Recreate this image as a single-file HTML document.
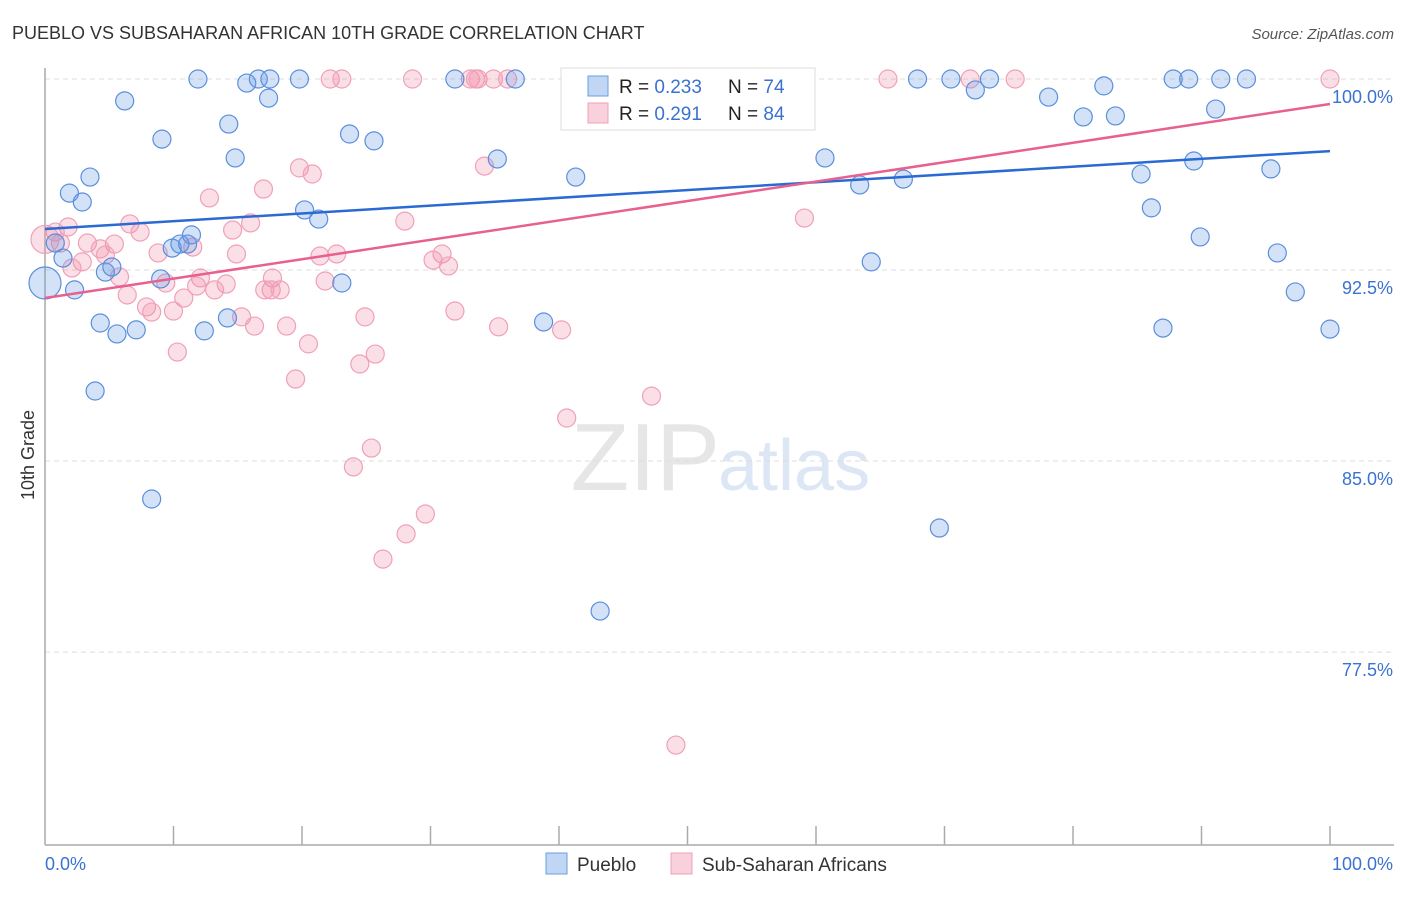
<!DOCTYPE html>
<html><head><meta charset="utf-8">
<style>
body{margin:0;background:#fff;font-family:"Liberation Sans",sans-serif;}
svg text{font-family:"Liberation Sans",sans-serif;}
</style></head>
<body>
<svg id="chart" width="1406" height="892" viewBox="0 0 1406 892" xmlns="http://www.w3.org/2000/svg">
<text x="12" y="39" font-size="18" fill="#333">PUEBLO VS SUBSAHARAN AFRICAN 10TH GRADE CORRELATION CHART</text>
<text x="1394" y="39" font-size="15" fill="#555" text-anchor="end" font-style="italic">Source: ZipAtlas.com</text>
<text x="720" y="490" font-size="96" fill="#e6e6e6" text-anchor="end" font-family="Liberation Serif">ZIP</text>
<text x="718" y="490" font-size="72" fill="#dce6f4">atlas</text>
<g id="grid"></g>
<g id="axes"></g>
<g id="pts"></g>
<g id="trends"></g>
<text transform="translate(34,455) rotate(-90)" font-size="18" fill="#333" text-anchor="middle">10th Grade</text>
<g>
<rect x="561" y="68" width="254" height="62" fill="#fff" stroke="#ddd"/>
<rect x="588" y="76" width="20" height="20" fill="rgba(100,150,230,0.4)" stroke="#6a9ee0"/>
<rect x="588" y="103" width="20" height="20" fill="rgba(240,140,170,0.4)" stroke="#f0a0b8"/>
<text x="619" y="93" font-size="19" fill="#222">R = <tspan fill="#3a72d0">0.233</tspan></text>
<text x="728" y="93" font-size="19" fill="#222">N = <tspan fill="#3a72d0">74</tspan></text>
<text x="619" y="120" font-size="19" fill="#222">R = <tspan fill="#3a72d0"> 0.291</tspan></text>
<text x="728" y="120" font-size="19" fill="#222">N = <tspan fill="#3a72d0">84</tspan></text>
</g>
<g>
<rect x="546" y="853" width="21" height="21" fill="rgba(100,150,230,0.4)" stroke="#6a9ee0"/>
<text x="577" y="871" font-size="19" fill="#333">Pueblo</text>
<rect x="671" y="853" width="21" height="21" fill="rgba(240,140,170,0.4)" stroke="#f0a0b8"/>
<text x="702" y="871" font-size="19" fill="#333">Sub-Saharan Africans</text>
</g>
</svg>
<script>
const yTicks=[100,92.5,85,77.5];
const yTickLabels=["100.0%","92.5%","85.0%","77.5%"];
const xTickLabels=["0.0%","100.0%"];
const blueX=[11.9,15.7,16.6,17.5,19.8,31.9,36.6,6.2,17.4,9.1,14.3,14.8,23.7,25.6,3.5,1.9,2.9,20.2,21.3,35.2,41.3,60.7,63.4,66.8,64.3,67.9,70.5,72.4,73.5,78.1,80.8,82.4,83.3,87.8,89.0,91.5,93.5,91.1,85.3,89.4,95.4,86.1,89.9,95.9,97.3,100,87.0,0.8,1.4,0,2.3,4.7,5.2,9.9,10.5,11.1,11.4,9.0,23.1,4.3,5.6,7.1,12.4,14.2,38.8,3.9,8.3,69.6,43.2,42.3];
const blueY=[100,99.84,100,100,100,100,100,99.14,99.25,97.64,98.23,96.9,97.84,97.57,96.15,95.52,95.17,94.86,94.5,96.86,96.15,96.9,95.84,96.07,92.82,100,100,99.57,100,99.29,98.51,99.73,98.55,100,100,100,100,98.82,96.27,96.78,96.47,94.94,93.8,93.17,91.64,90.18,90.22,93.56,92.97,91.99,91.72,92.42,92.62,93.36,93.52,93.52,93.88,92.15,91.99,90.42,89.99,90.15,90.11,90.62,90.46,87.75,83.51,82.37,79.11,100];
const blueR=[9,9,9,9,9,9,9,9,9,9,9,9,9,9,9,9,9,9,9,9,9,9,9,9,9,9,9,9,9,9,9,9,9,9,9,9,9,9,9,9,9,9,9,9,9,9,9,9,9,16,9,9,9,9,9,9,9,9,9,9,9,9,9,9,9,9,9,9,9,9];
const pinkX=[22.2,23.1,28.6,33.1,33.5,33.7,34.9,36.0,41.8,52.4,55.3,65.6,72.0,75.5,100,19.8,20.8,17.0,12.8,34.2,59.1,28.0,6.6,7.4,1.8,0.8,1.2,3.3,5.4,4.3,4.7,2.9,2.1,8.8,11.5,14.6,16.0,14.9,22.7,21.4,30.9,30.2,31.4,5.8,9.4,12.1,14.1,17.7,17.6,17.1,18.3,21.8,11.8,13.2,6.4,10.8,7.9,8.3,10.0,15.3,16.3,18.8,24.9,31.9,35.3,40.2,20.5,10.3,25.7,24.5,19.5,47.2,40.6,25.4,24.0,29.6,28.1,26.3,49.1,0];
const pinkY=[100,100,100,100,100,100,100,100,99.18,100,99.18,100,100,100,100,96.51,96.27,95.68,95.33,96.58,94.54,94.42,94.31,93.99,94.19,93.99,93.56,93.56,93.52,93.33,93.09,92.82,92.58,93.17,93.4,94.07,94.35,93.13,93.13,93.05,93.13,92.89,92.66,92.23,91.99,92.19,91.95,92.19,91.72,91.72,91.72,92.07,91.87,91.72,91.52,91.4,91.05,90.85,90.89,90.66,90.3,90.3,90.66,90.89,90.27,90.15,89.6,89.28,89.2,88.81,88.22,87.55,86.69,85.51,84.77,82.92,82.14,81.15,73.85,93.7];
const trendBlue=[94.11,97.17];
const trendPink=[91.40,99.02];
const NS="http://www.w3.org/2000/svg";
const X0=45,X1=1330,Y100=79,PXPER=25.47;
function sx(v){return X0+(X1-X0)*v/100;}
function sy(v){return Y100+(100-v)*PXPER;}
function mk(t,a,p){const e=document.createElementNS(NS,t);for(const k in a)e.setAttribute(k,a[k]);p.appendChild(e);return e;}
const grid=document.getElementById('grid'),axes=document.getElementById('axes'),pts=document.getElementById('pts'),tr=document.getElementById('trends');
yTicks.forEach((t,i)=>{
  const l=mk('line',{x1:45,x2:1394,y1:sy(t),y2:sy(t),stroke:'#ddd','stroke-dasharray':'5,4'},grid);
  
  
  const tx=mk('text',{x:1393,y:sy(t)+24,'font-size':18,fill:'#3a72d0','text-anchor':'end'},grid);
  tx.textContent=yTickLabels[i];
  
  
});
const ya=mk('line',{x1:45,x2:45,y1:68,y2:845,stroke:'#aaa','stroke-width':1.5},axes);


const xa=mk('line',{x1:45,x2:1394,y1:845,y2:845,stroke:'#aaa','stroke-width':1.5},axes);


for(let i=1;i<=10;i++){
  const tk=mk('line',{x1:sx(i*10),x2:sx(i*10),y1:826,y2:845,stroke:'#aaa','stroke-width':1.5},axes);
  
  
}
[0,100].forEach((v,i)=>{
  const tx=mk('text',{x:i?1393:45,y:870,'font-size':18,fill:'#3a72d0','text-anchor':i?'end':'start'},axes);
  tx.textContent=xTickLabels[i];
  
  
});
pinkX.forEach((x,i)=>{
  const c=mk('circle',{cx:sx(x),cy:sy(pinkY[i]),r:i==pinkX.length-1?14:9,fill:'rgba(240,140,170,0.28)',stroke:'#f0a0b8','stroke-width':1.2},pts);
  
  
});
blueX.forEach((x,i)=>{
  const c=mk('circle',{cx:sx(x),cy:sy(blueY[i]),r:blueR[i],fill:'rgba(100,150,230,0.28)',stroke:'#5a8fdc','stroke-width':1.2},pts);
  
  
});
const lb=mk('line',{x1:sx(0),y1:sy(trendBlue[0]),x2:sx(100),y2:sy(trendBlue[1]),stroke:'#2a6ad4','stroke-width':2.5},tr);


const lp=mk('line',{x1:sx(0),y1:sy(trendPink[0]),x2:sx(100),y2:sy(trendPink[1]),stroke:'#e8608e','stroke-width':2.5},tr);


</script>
</body></html>
